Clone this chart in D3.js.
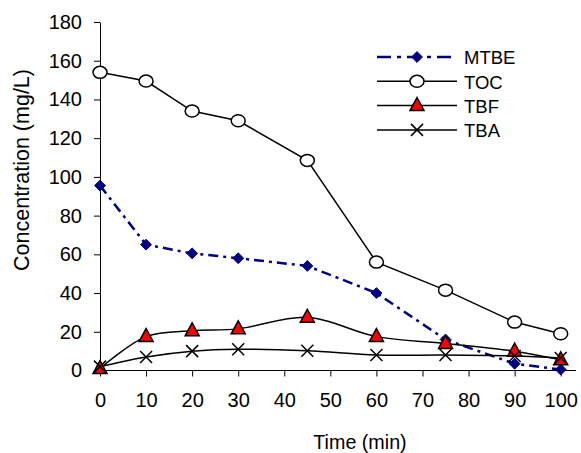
<!DOCTYPE html>
<html>
<head>
<meta charset="utf-8">
<script src="https://cdn.jsdelivr.net/npm/d3@7"></script>
<style>
  body { margin: 0; background: #fff; }
  text { font-family: "Liberation Sans", Arial, sans-serif; }
</style>
</head>
<body>
<div id="plot"></div>
<script>
// data
var times = [0, 10, 20, 30, 45, 60, 75, 90, 100];
var mtbe = [95.5, 65, 60.5, 58, 54, 40, 16, 3.5, 0.5];
var toc = [154, 149.5, 134, 129, 108.5, 56, 41.5, 25, 19];
var tbf = [1, 17.5, 20.5, 21.5, 27.5, 17.5, 14, 10, 5.5];
var tba = [2, 7, 10, 11, 10.2, 8, 8, 7.5, 6.5];
var xTicks = [0, 10, 20, 30, 40, 50, 60, 70, 80, 90, 100];
var yTicks = [0, 20, 40, 60, 80, 100, 120, 140, 160, 180];

var svg = d3.select("#plot").append("svg")
  .attr("width", 581)
  .attr("height", 453);

var x = d3.scaleLinear().domain([0, 100]).range([100, 560.7]);
var y = d3.scaleLinear().domain([0, 180]).range([370.5, 22]);

// axes
var xAxis = svg.append("g")
  .attr("transform", "translate(0," + y(0) + ")")
  .call(d3.axisBottom(x).tickValues(xTicks).tickSize(6).tickPadding(16).tickSizeOuter(0));
xAxis.select(".domain").attr("stroke", "#000").attr("d", "M" + x(0) + ",0H576");
xAxis.selectAll("text").attr("font-size", 20).attr("fill", "#000")
  .style("font-family", "Liberation Sans, Arial, sans-serif");

var yAxis = svg.append("g")
  .attr("transform", "translate(" + x(0) + ",0)")
  .call(d3.axisLeft(y).tickValues(yTicks).tickSize(6).tickPadding(12).tickSizeOuter(0));
yAxis.select(".domain").attr("stroke", "#000");
yAxis.selectAll("text").attr("font-size", 20).attr("fill", "#000")
  .style("font-family", "Liberation Sans, Arial, sans-serif");

svg.append("text")
  .attr("x", 360).attr("y", 449)
  .attr("text-anchor", "middle")
  .attr("font-size", 19.7)
  .text("Time (min)");

svg.append("text")
  .attr("transform", "translate(29,170) rotate(-90)")
  .attr("text-anchor", "middle")
  .attr("font-size", 21.5)
  .text("Concentration (mg/L)");

function pts(vals) { return times.map(function(t, i) { return [t, vals[i]]; }); }

var straight = d3.line().x(function(d) { return x(d[0]); }).y(function(d) { return y(d[1]); });
var smooth = d3.line().x(function(d) { return x(d[0]); }).y(function(d) { return y(d[1]); })
  .curve(d3.curveCatmullRom.alpha(0.5));

var series = [
  { name: "MTBE", vals: mtbe, line: straight, color: "#000080", dash: "10,5,3,5", marker: "diamond" },
  { name: "TOC", vals: toc, line: straight, color: "#000", dash: null, marker: "circle" },
  { name: "TBF", vals: tbf, line: smooth, color: "#000", dash: null, marker: "triangle" },
  { name: "TBA", vals: tba, line: smooth, color: "#000", dash: null, marker: "cross" }
];

function drawMarker(g, type, cx, cy) {
  if (type == "circle") {
    g.append("ellipse").attr("cx", cx).attr("cy", cy).attr("rx", 7).attr("ry", 6)
      .attr("fill", "#fff").attr("stroke", "#000").attr("stroke-width", 1.5);
  } else if (type == "diamond") {
    g.append("path").attr("d", d3.symbol().type(d3.symbolDiamond2).size(75)())
      .attr("transform", "translate(" + cx + "," + cy + ")")
      .attr("fill", "#000080").attr("stroke", "#000080");
  } else if (type == "triangle") {
    g.append("path").attr("d", "M0,-8L7,5L-7,5Z")
      .attr("transform", "translate(" + cx + "," + cy + ")")
      .attr("fill", "#ff0000").attr("stroke", "#000").attr("stroke-width", 1.5);
  } else {
    g.append("path").attr("d", "M-6,-6L6,6M-6,6L6,-6")
      .attr("transform", "translate(" + cx + "," + cy + ")")
      .attr("fill", "none").attr("stroke", "#000").attr("stroke-width", 1.5);
  }
}

series.forEach(function(s) {
  svg.append("path")
    .attr("d", s.line(pts(s.vals)))
    .attr("fill", "none")
    .attr("stroke", s.color)
    .attr("stroke-width", s.dash ? 2.5 : 1.5)
    .attr("stroke-dasharray", s.dash);
});
series.forEach(function(s) {
  var g = svg.append("g");
  pts(s.vals).forEach(function(p) { drawMarker(g, s.marker, x(p[0]), y(p[1])); });
});

// legend
var legend = svg.append("g");
series.forEach(function(s, i) {
  var ly = 57 + i * 24.3;
  legend.append("line")
    .attr("x1", 377).attr("x2", 457).attr("y1", ly).attr("y2", ly)
    .attr("stroke", s.color)
    .attr("stroke-width", s.dash ? 2.5 : 1.5)
    .attr("stroke-dasharray", s.dash ? "14,6,4,6" : null);
  drawMarker(legend, s.marker, 417, ly);
  legend.append("text")
    .attr("x", 464).attr("y", ly + 7.3)
    .attr("font-size", 18.5)
    .text(s.name);
});
</script>
</body>
</html>
